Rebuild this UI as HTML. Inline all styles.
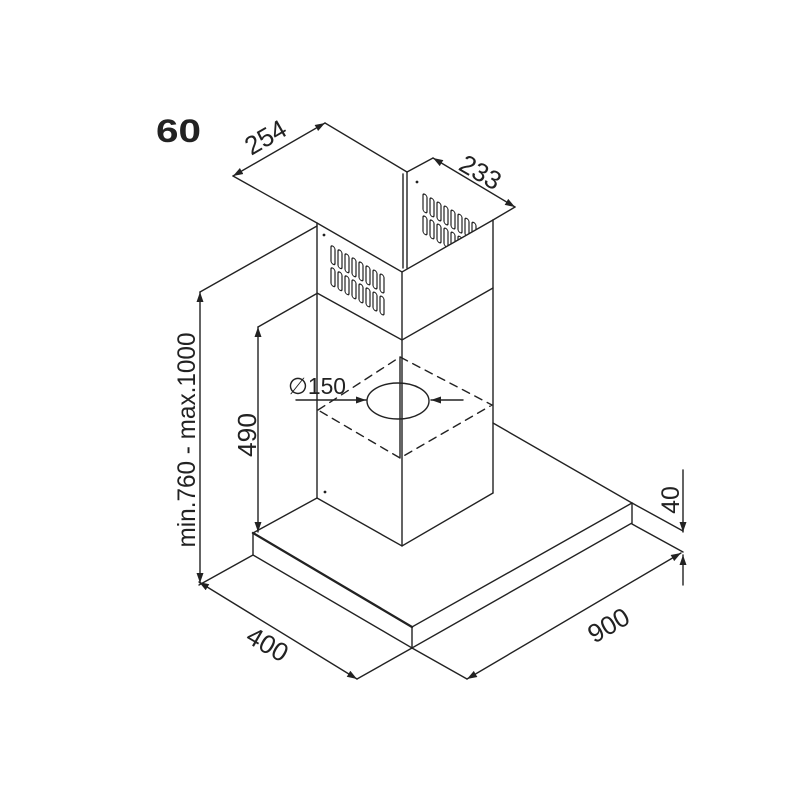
<!DOCTYPE html>
<html><head><meta charset="utf-8"><style>html,body{margin:0;padding:0;background:#fff}svg{display:block}</style></head>
<body>
<svg width="800" height="800" viewBox="0 0 800 800" xmlns="http://www.w3.org/2000/svg">
<defs>
<marker id="a" viewBox="0 0 10 10" refX="10" refY="5" markerWidth="10" markerHeight="10" markerUnits="userSpaceOnUse" orient="auto-start-reverse"><path d="M0,1.5 L10,5 L0,8.5z" fill="#222"/></marker>
<clipPath id="cr"><polygon points="407,172 493,220 402,272"/></clipPath>
</defs>
<g fill="none" stroke="#222" stroke-width="1.4" stroke-linecap="round">
<polyline points="233,176 317,223 402,272 493,220"/>
<line x1="317" y1="223" x2="317" y2="498"/>
<line x1="402" y1="272" x2="402" y2="546"/>
<line x1="493" y1="220" x2="493" y2="493"/>
<line x1="407" y1="172" x2="407" y2="268"/>
<line x1="403" y1="174" x2="403" y2="268"/>
<polyline points="317,293 402,340 493,288"/>
<line x1="325" y1="123" x2="407" y2="172"/>
<line x1="407" y1="172" x2="433" y2="158"/>
<line x1="493" y1="220" x2="515" y2="207"/>
<line x1="233" y1="176" x2="325" y2="123" marker-start="url(#a)" marker-end="url(#a)"/>
<line x1="433" y1="158" x2="515" y2="207" marker-start="url(#a)" marker-end="url(#a)"/>
<polyline points="317,498 402,546 493,493"/>
<polygon points="318,410 400,357 492,405 400,458" stroke-dasharray="8,6"/>
<ellipse cx="398" cy="401" rx="31" ry="18"/>
<line x1="400" y1="357" x2="400" y2="458"/>
<line x1="296" y1="400" x2="366" y2="400" marker-end="url(#a)"/>
<line x1="463" y1="400" x2="431" y2="400" marker-end="url(#a)"/>
<polyline points="317,498 253,533 412,627 632,503 493,423"/>
<polyline points="253,533 253,555 412,648 632,523 632,503"/>
<line x1="412" y1="627" x2="412" y2="648"/>
<line x1="253" y1="533" x2="412" y2="627" stroke-width="2.3"/>
<line x1="200" y1="292" x2="317" y2="226"/>
<line x1="200" y1="292" x2="200" y2="583" marker-start="url(#a)" marker-end="url(#a)"/>
<line x1="258" y1="327" x2="316" y2="294"/>
<line x1="258" y1="327" x2="258" y2="532" marker-start="url(#a)" marker-end="url(#a)"/>
<line x1="253" y1="555" x2="199" y2="585"/>
<line x1="412" y1="648" x2="357" y2="679"/>
<line x1="199" y1="582" x2="357" y2="679" marker-start="url(#a)" marker-end="url(#a)"/>
<line x1="412" y1="648" x2="467" y2="679"/>
<line x1="467" y1="679" x2="681" y2="553" marker-start="url(#a)" marker-end="url(#a)"/>
<line x1="632" y1="503" x2="683" y2="531"/>
<line x1="632" y1="524" x2="683" y2="552"/>
<line x1="683" y1="470" x2="683" y2="532" marker-end="url(#a)"/>
<line x1="683" y1="585" x2="683" y2="555" marker-end="url(#a)"/>
</g>
<circle cx="324" cy="235" r="1.4" fill="#222"/>
<circle cx="417" cy="182" r="1.4" fill="#222"/>
<circle cx="325" cy="492" r="1.4" fill="#222"/>
<g transform="matrix(1,0.577,0,1,317,223)" fill="none" stroke="#222" stroke-width="1.2">
<g id="row">
<rect x="14" y="14" width="4" height="18" rx="2"/><rect x="21" y="14" width="4" height="18" rx="2"/><rect x="28" y="14" width="4" height="18" rx="2"/><rect x="35" y="14" width="4" height="18" rx="2"/><rect x="42" y="14" width="4" height="18" rx="2"/><rect x="49" y="14" width="4" height="18" rx="2"/><rect x="56" y="14" width="4" height="18" rx="2"/><rect x="63" y="14" width="4" height="18" rx="2"/>
</g>
<use href="#row" y="22"/>
</g>
<g clip-path="url(#cr)">
<g transform="matrix(1,0.577,0,1,407,172)" fill="none" stroke="#222" stroke-width="1.2">
<use href="#row" x="2" y="-2"/>
<use href="#row" x="2" y="20"/>
</g>
</g>
<g font-family="Liberation Sans, sans-serif" fill="#222">
<text x="156" y="142" font-size="32" font-weight="bold" textLength="45" lengthAdjust="spacingAndGlyphs">60</text>
<text transform="translate(270,145) rotate(-30)" font-size="26" text-anchor="middle">254</text>
<text transform="translate(476,180) rotate(30)" font-size="26" text-anchor="middle">233</text>
<text x="288" y="394" font-size="23" textLength="58" lengthAdjust="spacingAndGlyphs">∅150</text>
<text transform="translate(195,440) rotate(-90)" font-size="25" text-anchor="middle" textLength="215" lengthAdjust="spacingAndGlyphs">min.760 - max.1000</text>
<text transform="translate(256,435) rotate(-90)" font-size="26" text-anchor="middle" textLength="44" lengthAdjust="spacingAndGlyphs">490</text>
<text transform="translate(263,652) rotate(30)" font-size="26" text-anchor="middle">400</text>
<text transform="translate(613,633) rotate(-30)" font-size="26" text-anchor="middle">900</text>
<text transform="translate(679,500) rotate(-90)" font-size="25" text-anchor="middle">40</text>
</g>
</svg>
</body></html>
